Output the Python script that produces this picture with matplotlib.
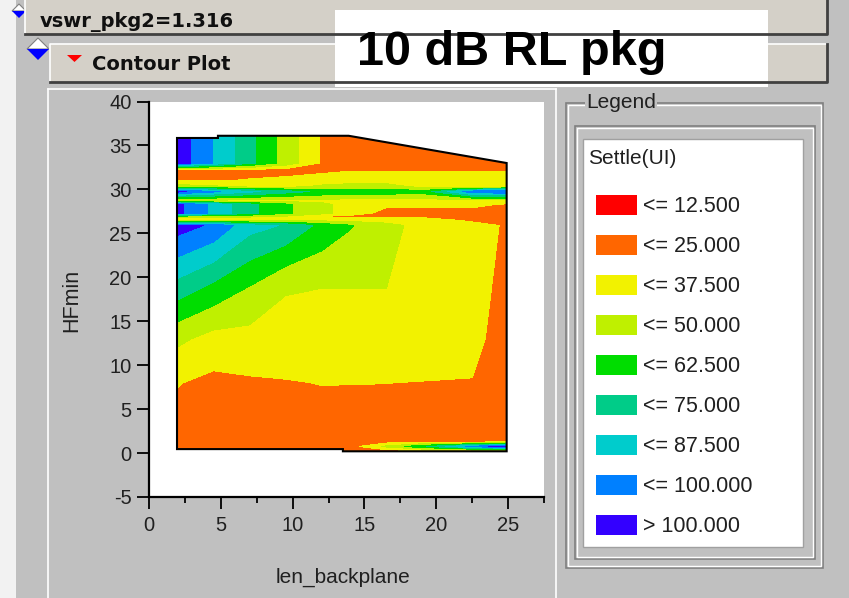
import numpy as np
import matplotlib
matplotlib.use("Agg")
import matplotlib.pyplot as plt
from matplotlib.patches import Rectangle, Polygon

plt.rcParams["axes.unicode_minus"] = False

#Settle(UI) sampled over len_backplane (x) and HFmin (y)
len_backplane = [1.9, 4.5, 7, 9.5, 12, 14, 16.5, 19, 22.5, 25]
hfmin = [0.2, 0.75, 1.3, 8.0, 13.0, 19.0, 25.9, 26.5, 26.9, 27.3,
         28.3, 28.7, 29.75, 30.3, 31.0, 32.2, 33.0, 36.5]
settle = [
    [18, 18, 18, 18, 18, 18, 18, 18, 18, 18],
    [18, 18, 18, 18, 18, 20, 40, 60, 92, 110],
    [19, 19, 19, 19, 19, 19, 19, 19, 19, 19],
    [25.7, 22, 23.5, 24.3, 25.3, 25.2, 25.1, 24.7, 24.5, 18],
    [40.5, 33, 33, 33, 33, 33, 33, 33, 29, 18],
    [71, 60, 50, 38.5, 37.7, 37.7, 37.7, 31, 31, 20],
    [106, 97.7, 79.5, 74, 59, 51, 41, 34, 31, 23],
    [33, 33, 34, 35, 34, 33, 33, 32, 22, 22],
    [40, 40, 38, 35, 24, 22, 22, 22, 22, 20],
    [104, 84, 66, 52, 42, 30, 22, 22, 22, 20],
    [104, 84, 66, 52, 42, 30, 27, 27, 27, 24],
    [33, 33, 33, 33, 33, 32, 32, 32, 31, 31],
    [104, 90, 78, 68, 60, 58, 57, 55, 95, 100],
    [45, 40, 35, 34, 40, 42, 42, 35, 33, 33],
    [24, 24, 26, 28, 31, 33, 33, 33, 33, 33],
    [20, 20, 20, 20, 22, 24, 24, 24, 24, 24],
    [108, 87, 66, 45, 24, 20, 20, 20, 20, 20],
    [108, 87, 66, 45, 24, 20, 20, 20, 20, 20],
]
#outline of the swept region
hull_x = [1.95, 1.95, 4.8, 4.8, 13.9, 24.9, 24.9, 13.5, 13.5]
hull_y = [0.45, 35.85, 35.85, 36.1, 36.1, 33.0, 0.2, 0.2, 0.45]

levels = [0, 12.5, 25, 37.5, 50, 62.5, 75, 87.5, 100, 1000]
colors = ["#FF0000", "#FF6600", "#F2F200", "#BFF000", "#00DD00",
          "#00CC88", "#00CCCC", "#0080FF", "#3300FF"]

title_box = "10 dB RL pkg"
header = "vswr_pkg2=1.316"

W, H = 849, 598
GRAY = "#C0C0C0"
BAR = "#D4D0C8"
fig = plt.figure(figsize=(W / 100, H / 100), dpi=100, facecolor=GRAY)

#window chrome drawn in pixel coordinates
bg = fig.add_axes([0, 0, 1, 1], zorder=0)
bg.set_xlim(0, W)
bg.set_ylim(H, 0)
bg.axis("off")
bg.add_patch(Rectangle((0, 0), 16, H, fc="#F2F2F2", ec="none"))

def bar(x0, y0, x1, y1):
    bg.add_patch(Rectangle((x0, y0), x1 - x0, y1 - y0, fc=BAR, ec="none"))
    bg.plot([x0, x0, x1], [y1, y0, y0], color="white", lw=1.2)
    bg.plot([x0, x1, x1], [y1, y1, y0], color="#404040", lw=2)

#blue diamonds and red triangle
bg.add_patch(Polygon([[12, 11], [19, 4], [26, 11]], fc="white", ec="#808080", lw=0.8))
bg.add_patch(Polygon([[12, 11], [19, 18], [26, 11]], fc="#0000FF", ec="none"))
bar(25, -2, 827, 34)
bar(50, 44, 827, 82)
bg.add_patch(Polygon([[27, 49], [38, 38], [49, 49]], fc="white", ec="#808080", lw=0.8))
bg.add_patch(Polygon([[27, 49], [38, 60], [49, 49]], fc="#0000FF", ec="none"))
bg.add_patch(Polygon([[67, 55], [82, 55], [74.5, 62]], fc="#FF0000", ec="none"))

bg.text(40, 27, header, fontsize=14, fontweight="bold", family="DejaVu Sans",
        color="#101010", va="baseline")
bg.text(92, 70, "Contour Plot", fontsize=14, fontweight="bold", family="DejaVu Sans",
        color="#101010", va="baseline")

bg.add_patch(Rectangle((335, 10), 433, 77, fc="white", ec="none"))
bg.text(357, 65, title_box, fontsize=35, fontweight="bold", family="Liberation Sans",
        color="black", va="baseline")

#plot panel edges
bg.plot([48, 556], [89, 89], color="white", lw=1.2)
bg.plot([48, 48], [89, H], color="white", lw=1.2)
bg.plot([556, 556], [89, H], color="white", lw=1.2)

#legend group box
for (x0, y0, x1, y1) in [(566, 103, 823, 568), (575, 126, 815, 559)]:
    bg.add_patch(Rectangle((x0, y0), x1 - x0, y1 - y0, fc="none", ec="#808080", lw=1.2))
    bg.add_patch(Rectangle((x0 + 2, y0 + 2), x1 - x0 - 4, y1 - y0 - 4, fc="none",
                           ec="white", lw=1.0))
bg.text(586, 102, "Legend", fontsize=15, family="Liberation Sans", color="#202020",
        va="center", bbox=dict(fc=GRAY, ec="none", pad=1))
bg.add_patch(Rectangle((583, 139), 220, 408, fc="white", ec="#A0A0A0", lw=1))
bg.text(588, 158, "Settle(UI)", fontsize=15, family="Liberation Sans",
        color="#202020", va="center")
labels = ["<= %.3f" % v for v in levels[1:-1]] + ["> %.3f" % levels[-2]]
for i, (c, lab) in enumerate(zip(colors, labels)):
    cy = 205 + 40 * i
    bg.add_patch(Rectangle((596, cy - 10), 41, 20, fc=c, ec="none"))
    bg.text(643, cy + 1, lab, fontsize=15.5, family="Liberation Sans",
            color="#202020", va="center")

#Chart
ax = fig.add_axes([149 / W, 1 - 497 / H, 395 / W, 395.5 / H], zorder=1)
ax.set_facecolor("white")
X, Y = np.meshgrid(len_backplane, hfmin)
Z = np.array(settle)
cs = ax.contourf(X, Y, Z, levels=levels, colors=colors, antialiased=False)
hull = Polygon(np.column_stack([hull_x, hull_y]), closed=True, transform=ax.transData)
cs.set_clip_path(hull)
ax.add_patch(Polygon(np.column_stack([hull_x, hull_y]), closed=True, fill=False,
                     ec="black", lw=1.5))

ax.set_xlim(0, 27.5)
ax.set_ylim(-5, 40)
ax.set_xticks(np.arange(0, 26, 5))
ax.set_xticks(np.arange(2.5, 28, 5), minor=True)
ax.set_yticks(np.arange(-5, 41, 5))
for s in ["top", "right"]:
    ax.spines[s].set_visible(False)
for s in ["left", "bottom"]:
    ax.spines[s].set_linewidth(1.6)
ax.tick_params(which="major", length=8.6, width=1.3, color="black", pad=4,
               labelsize=14.5, labelcolor="#202020")
ax.tick_params(which="minor", length=4.3, width=1.3, color="black")
ax.tick_params(axis="x", pad=5)
for t in ax.get_xticklabels() + ax.get_yticklabels():
    t.set_family("Liberation Sans")
ax.set_xlabel("len_backplane", fontsize=15, family="Liberation Sans",
              color="#202020", va="center")
ax.xaxis.set_label_coords(0.49, -0.202)
ax.set_ylabel("HFmin", fontsize=15.5, family="Liberation Sans",
              color="#202020", va="center")
ax.yaxis.set_label_coords(-0.195, 0.498)

plt.savefig("out.png", dpi=100, facecolor=GRAY)
